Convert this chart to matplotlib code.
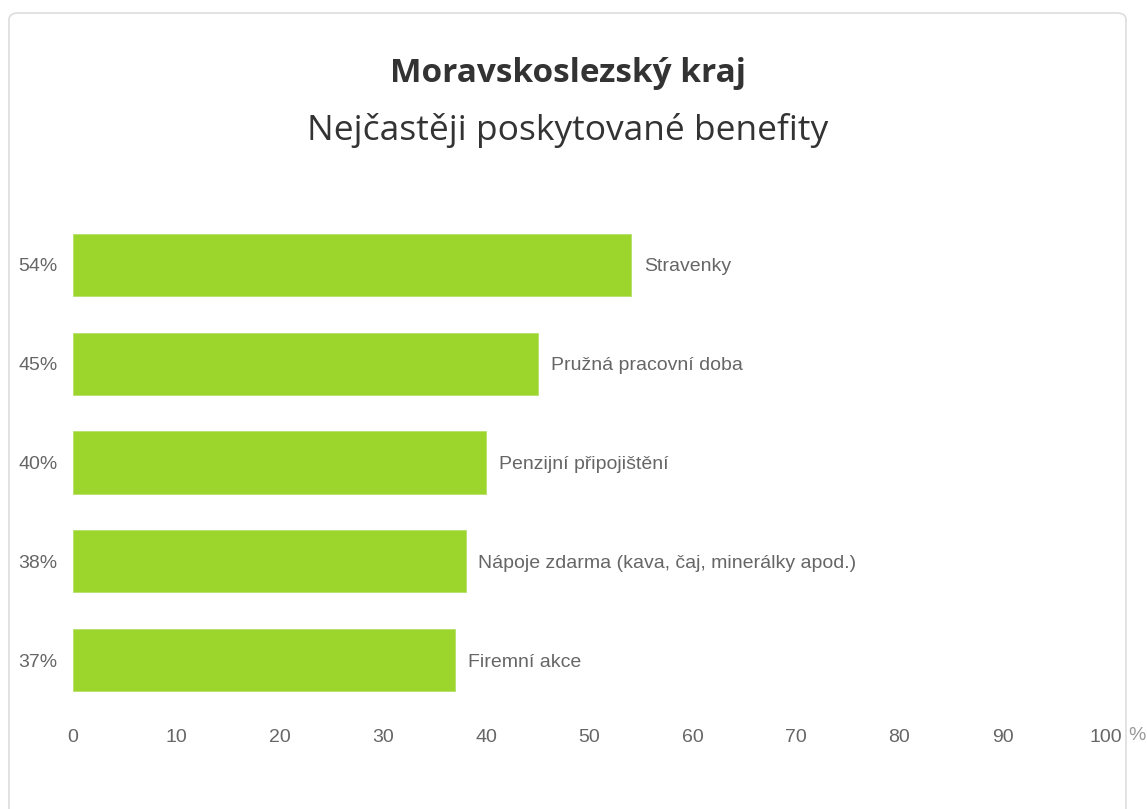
import matplotlib.pyplot as plt
from matplotlib.patches import FancyBboxPatch

# Data
categories = ["Stravenky", "Pružná pracovní doba", "Penzijní připojištění",
              "Nápoje zdarma (kava, čaj, minerálky apod.)", "Firemní akce"]
values = [54, 45, 40, 38, 37]
xticks = [0, 10, 20, 30, 40, 50, 60, 70, 80, 90, 100]

W, H = 1147, 809
fig = plt.figure(figsize=(W / 100, H / 100), dpi=100)

# card background
card = FancyBboxPatch((9 / W, -0.05), 1117 / W, (H - 13) / H + 0.05,
                      boxstyle="round,pad=0,rounding_size=0.008",
                      transform=fig.transFigure, facecolor="white",
                      edgecolor="#dddddd", linewidth=1.2, zorder=-10)
fig.patches.append(card)

# axes placement in pixels
x0, x1 = 73, 1106
ytop, ybot = 215.5, 709.5
ax = fig.add_axes([x0 / W, 1 - ybot / H, (x1 - x0) / W, (ybot - ytop) / H])
ax.set_facecolor("none")

pos = list(range(len(values)))
ax.barh(pos, values, height=0.63, color="#9cd52c", edgecolor="#b5e06a", linewidth=0.6)
ax.set_xlim(0, 100)
ax.set_ylim(len(values) - 0.5, -0.5)

label_font = "Liberation Sans"
for p, v, c in zip(pos, values, categories):
    ax.text(v + 1.25, p + 0.02, c, va="center", ha="left", fontsize=14,
            color="#666666", family=label_font)
    ax.text(-1.5, p + 0.02, f"{v}%", va="center", ha="right", fontsize=14,
            color="#666666", family=label_font)

ax.set_yticks([])
ax.set_xticks(xticks)
ax.set_xticklabels([str(t) for t in xticks], family=label_font, fontsize=14, color="#666666")
ax.tick_params(axis="x", length=0, pad=14)
for s in ax.spines.values():
    s.set_visible(False)

fig.text(1137 / W, 1 - 736 / H, "%", ha="center", va="center", fontsize=14,
         color="#999999", family=label_font)

# titles
fig.text(568 / W, 1 - 73 / H, "Moravskoslezský kraj", ha="center", va="center",
         fontsize=24, fontweight="bold", color="#333333", family="Open Sans")
fig.text(568 / W, 1 - 130 / H, "Nejčastěji poskytované benefity", ha="center",
         va="center", fontsize=25.5, color="#333333", family="Open Sans")

fig.savefig("out.png", dpi=100, facecolor="white")
